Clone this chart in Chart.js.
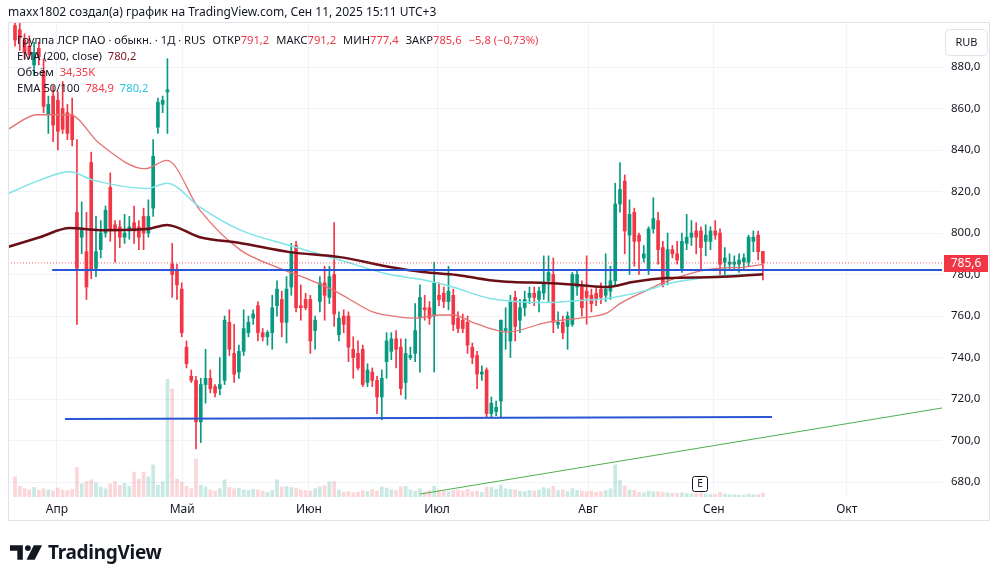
<!DOCTYPE html>
<html>
<head>
<meta charset="utf-8">
<script src="https://cdn.jsdelivr.net/npm/chart.js@4.4.1/dist/chart.umd.min.js"></script>
<style>
    html, body { margin: 0; padding: 0; background: #fff; width: 1000px; height: 578px; overflow: hidden; }
    body { font-family: "Noto Sans", "DejaVu Sans", sans-serif; color: #131722; }
    #wrap { position: relative; width: 1000px; height: 578px; }
    #chart { position: absolute; left: 0; top: 0; }
    .hdr { position: absolute; left: 8px; top: 3px; font-size: 12px; white-space: pre; }
    .legend { position: absolute; left: 17px; top: 32px; font-size: 11.2px; line-height: 16px; white-space: pre; }
    .red { color: #f23645; }
    .maroon { color: #801922; }
    .cyan { color: #26c6da; }
    .gap { margin-left: 7px; }
    .logo { position: absolute; left: 10px; top: 539px; display: flex; align-items: center; }
    .logo span { font-size: 19px; font-weight: 700; margin-left: 5px; letter-spacing: -0.3px; color: #131722; }
</style>
</head>
<body>
<div id="wrap">
    <canvas id="chart" width="1000" height="578"></canvas>
    <div class="hdr">maxx1802 создал(а) график на TradingView.com, Сен 11, 2025 15:11 UTC+3</div>
    <div class="legend">Группа ЛСР ПАО · обыкн. · 1Д · RUS<span class="gap">ОТКР</span><span class="red">791,2</span><span class="gap">МАКС</span><span class="red">791,2</span><span class="gap">МИН</span><span class="red">777,4</span><span class="gap">ЗАКР</span><span class="red">785,6</span><span class="gap red">−5,8 (−0,73%)</span>
EMA (200, close)  <span class="maroon">780,2</span>
Объём  <span class="red">34,35K</span>
EMA 50/100  <span class="red">784,9</span>  <span class="cyan">780,2</span></div>
    <div class="logo">
        <svg width="33" height="15" viewBox="0 0 36 16">
            <path d="M0 0 H14 V16 H8 V6 H0 Z" fill="#131722"/>
            <circle cx="19.5" cy="3.2" r="3.2" fill="#131722"/>
            <path d="M26 0 H35 L27 16 H18 Z" fill="#131722"/>
        </svg>
        <span>TradingView</span>
    </div>
</div>
<script>
// daily candles, index 0 = first visible bar (early April 2025)
const opens = [900, 898, 893, 890, 881, 889, 878, 857, 866, 864, 860, 858, 857, 810, 798, 791, 834, 783, 792, 800,
    822, 804, 803, 798, 801, 805, 803, 808, 800, 812, 851, 862, 868, 785, 782, 773, 745, 731, 729, 709,
    727, 730, 726, 725, 729, 757, 742, 733, 743, 752, 759, 765, 752, 750, 752, 765, 768, 757, 774, 794,
    765, 768, 768, 753, 767, 776, 769, 780, 751, 760, 760, 744, 742, 744, 728, 733, 729, 721, 738, 743,
    749, 745, 728, 740, 742, 759, 764, 764, 760, 770, 771, 767, 770, 759, 758, 757, 745, 741, 732, 734,
    713, 714, 719, 753, 748, 769, 758, 764, 769, 771, 768, 771, 777, 780, 756, 757, 755, 756, 774, 774,
    772, 770, 771, 773, 770, 772, 777, 814, 825, 799, 810, 799, 788, 782, 802, 806, 793, 778, 792, 790,
    783, 795, 798, 801, 801, 796, 796, 801, 800, 786, 785, 785, 785, 786, 786, 796, 799, 791.2];
const highs = [904, 903, 896, 895, 892, 892, 884, 866, 871, 868, 873, 862, 865, 845, 815, 810, 839, 808, 806, 813,
    829, 806, 806, 809, 808, 813, 806, 812, 816, 845, 865, 866, 884, 795, 785, 776, 748, 734, 731, 730,
    744, 734, 727, 740, 760, 763, 756, 746, 763, 760, 763, 767, 754, 753, 770, 777, 772, 779, 795, 796,
    775, 771, 770, 760, 779, 784, 784, 805, 762, 763, 762, 750, 748, 746, 737, 735, 731, 734, 752, 752,
    753, 749, 749, 745, 766, 775, 770, 767, 786, 776, 774, 784, 773, 762, 761, 760, 747, 743, 736, 735,
    721, 719, 758, 764, 770, 772, 768, 772, 774, 774, 774, 789, 789, 788, 762, 760, 762, 781, 782, 777,
    789, 773, 774, 776, 790, 784, 824, 834, 828, 816, 812, 800, 794, 803, 817, 810, 796, 800, 794, 796,
    800, 809, 806, 805, 803, 804, 803, 806, 802, 793, 790, 789, 790, 790, 799, 801, 801, 791.2];
const lows = [890, 888, 884, 884, 876, 881, 858, 848, 844, 840, 848, 845, 842, 756, 790, 768, 778, 779, 788, 798,
    796, 786, 793, 795, 797, 795, 792, 792, 798, 808, 848, 858, 848, 769, 768, 750, 735, 728, 696, 699,
    718, 723, 721, 722, 727, 741, 728, 730, 741, 750, 756, 748, 748, 746, 744, 760, 750, 747, 770, 762,
    758, 763, 742, 744, 762, 758, 766, 755, 748, 752, 738, 730, 734, 726, 726, 726, 713, 710, 730, 739,
    735, 722, 720, 739, 738, 733, 758, 756, 733, 765, 764, 763, 753, 752, 752, 742, 737, 725, 729, 711,
    711, 712, 711, 744, 740, 748, 752, 760, 766, 765, 762, 768, 767, 752, 754, 749, 744, 755, 770, 760,
    756, 762, 765, 766, 767, 768, 775, 810, 790, 780, 784, 780, 786, 780, 800, 785, 774, 775, 788, 785,
    781, 792, 794, 790, 782, 789, 792, 797, 780, 780, 782, 782, 781, 782, 784, 791, 787, 777.4];
const closes = [893, 894, 887, 886, 887, 885, 861, 862, 852, 849, 850, 848, 845, 783, 802, 774, 782, 791, 800, 811,
    801, 801, 798, 800, 803, 801, 798, 800, 808, 837, 863, 864, 869, 780, 775, 752, 737, 729, 709, 727,
    730, 725, 723, 727, 758, 744, 732, 743, 754, 757, 761, 752, 750, 752, 764, 773, 757, 773, 791, 764,
    764, 764, 748, 758, 776, 770, 779, 761, 759, 756, 745, 740, 735, 727, 734, 729, 721, 730, 748, 749,
    744, 725, 742, 741, 753, 769, 763, 759, 776, 768, 767, 772, 756, 754, 754, 746, 740, 732, 733, 713,
    718, 716, 758, 754, 767, 755, 764, 768, 771, 769, 772, 776, 781, 757, 757, 752, 760, 780, 780, 764,
    769, 766, 768, 769, 773, 777, 814, 821, 801, 809, 796, 796, 790, 802, 807, 792, 775, 792, 790, 787,
    796, 798, 800, 798, 793, 799, 801, 799, 785, 788, 786, 786, 787, 788, 798, 798, 791, 785.6];
// volume, thousands of shares
const volumes = [170, 90, 70, 60, 80, 55, 70, 60, 50, 75, 60, 55, 65, 250, 110, 130, 145, 120, 85, 70,
    110, 130, 100, 115, 90, 210, 150, 210, 170, 270, 100, 130, 990, 910, 150, 125, 90, 70, 320, 100,
    85, 60, 50, 70, 145, 80, 70, 75, 60, 55, 65, 60, 50, 40, 55, 145, 85, 90, 80, 75,
    60, 55, 50, 70, 85, 95, 125, 130, 60, 40, 45, 35, 40, 55, 45, 65, 50, 85, 75, 60,
    55, 85, 90, 60, 50, 70, 45, 55, 90, 60, 50, 45, 55, 60, 50, 65, 45, 50, 40, 85,
    80, 65, 100, 70, 65, 60, 50, 45, 55, 50, 60, 80, 70, 90, 55, 60, 45, 70, 55, 50,
    45, 50, 40, 45, 55, 70, 270, 140, 95, 60, 55, 40, 35, 50, 45, 45, 40, 35, 30, 30,
    35, 30, 25, 30, 35, 25, 20, 25, 40, 25, 20, 18, 15, 15, 25, 20, 20, 34.35];

// moving averages: bar index -> value
const ema50Idx = [-1.5, 4.6, 11.5, 17.8, 27.3, 31.9, 38.8, 47.2, 55.6, 61.3, 66.8, 70.3, 75.1, 80.8, 83.5, 89.2, 91.9, 96.1, 99.7, 103.3, 111.7, 118.6, 124.3, 127, 132.7, 135.4, 141.7, 147.4, 152.8, 157];
const ema50 = [850, 857, 857, 843, 831, 835, 811, 792, 783, 778, 772.5, 768, 762, 759.5, 759, 760.5, 760.5, 757, 754, 752.3, 757, 759, 761.5, 766, 772.5, 775.5, 780.5, 783, 783.5, 784.9];
const ema100Idx = [-1.5, 5.2, 11.5, 16.4, 27.7, 31.9, 38.8, 47.2, 57.7, 68.2, 78.7, 85.6, 91.9, 99.7, 111.7, 118.6, 124.3, 127, 132.7, 136.9, 141.7, 148.6, 157];
const ema100 = [819, 825.5, 829.5, 825.5, 821.5, 824, 812.5, 801.5, 794, 787, 780, 777.5, 774, 768.5, 766.5, 767.5, 768.5, 769.5, 772.5, 775.5, 777.5, 779.5, 780.2];
const ema200Idx = [-1.5, 5.2, 11.5, 17.8, 27.7, 31.9, 38.8, 47.2, 57.7, 68.2, 78.7, 85.6, 92.8, 99.7, 104.5, 111.7, 118.6, 124.3, 129.7, 136.9, 147.4, 157];
const ema200 = [793.3, 798, 802.4, 801.4, 801.9, 803.9, 798, 795.2, 790.8, 788.4, 783.6, 781.2, 779.8, 777.3, 776.4, 775.9, 774.9, 774, 776.4, 778.3, 778.8, 780.2];

// drawings on the chart
const levelHigh = { x: [7.8, 194.6], y: [782.2, 782.2] };
const levelLow = { x: [10.5, 158.9], y: [710.4, 711.4] };
const trendLine = { x: [85, 194.6], y: [674.2, 715.7] };
const earningsIdx = 143.8;

const monthIdx = [8.8, 35.1, 61.7, 88.6, 120.3, 146.7, 174.6];
const monthLabels = ['Апр', 'Май', 'Июн', 'Июл', 'Авг', 'Сен', 'Окт'];
const yTicks = [680, 700, 720, 740, 760, 780, 800, 820, 840, 860, 880];

const X_MIN = -1.47, X_MAX = 194.6;
const Y_MIN = 672.8, Y_MAX = 901.7;

const UP = '#089981', DOWN = '#f23645';
const candleColors = closes.map((c, i) => c >= opens[i] ? UP : DOWN);
const volColors = closes.map((c, i) => c >= opens[i] ? 'rgba(8,153,129,0.22)' : 'rgba(242,54,69,0.2)');
const fmt = v => v.toFixed(1).replace('.', ',');
const last = closes[closes.length - 1];

function pts(xs, ys) {
    return xs.map((x, i) => ({ x: x, y: ys[i] }));
}

const overlay = {
    id: 'overlay',
    afterDraw(chart) {
        const { ctx, scales: { x, y } } = chart;
        ctx.save();
        // panel frame
        ctx.strokeStyle = '#e0e3eb';
        ctx.lineWidth = 1;
        ctx.strokeRect(8.5, 22.5, 981, 498);

        // RUB button
        ctx.beginPath();
        ctx.roundRect(945.5, 29.5, 42, 26, 4);
        ctx.fillStyle = '#fff';
        ctx.fill();
        ctx.stroke();
        ctx.fillStyle = '#131722';
        ctx.font = '11px "Noto Sans"';
        ctx.textAlign = 'center';
        ctx.textBaseline = 'middle';
        ctx.fillText('RUB', 966.5, 42.5);

        // last price label
        const py = y.getPixelForValue(last);
        ctx.fillStyle = '#f23645';
        ctx.fillRect(944, Math.round(py) - 8, 44, 17);
        ctx.fillStyle = '#fff';
        ctx.font = '12px "Noto Sans"';
        ctx.fillText(fmt(last), 966, Math.round(py) + 0.5);

        // earnings marker
        const ex = x.getPixelForValue(earningsIdx);
        ctx.fillStyle = '#fff';
        ctx.strokeStyle = '#131722';
        ctx.beginPath();
        ctx.roundRect(Math.round(ex) - 7.5, 476.5, 15, 15, 2);
        ctx.fill();
        ctx.stroke();
        ctx.fillStyle = '#131722';
        ctx.font = '10px "Noto Sans"';
        ctx.fillText('E', Math.round(ex), 484.5);
        ctx.restore();
    }
};

new Chart(document.getElementById('chart').getContext('2d'), {
    type: 'bar',
    data: {
        datasets: [
            {
                type: 'line', order: 0,
                data: pts(levelHigh.x, levelHigh.y),
                borderColor: '#2a55d4', borderWidth: 2, pointRadius: 0
            },
            {
                type: 'line', order: 0,
                data: pts(levelLow.x, levelLow.y),
                borderColor: '#2a55d4', borderWidth: 2, pointRadius: 0
            },
            {
                type: 'line', order: 0,
                data: pts(trendLine.x, trendLine.y),
                borderColor: '#4caf50', borderWidth: 1, pointRadius: 0
            },
            {
                type: 'line', order: 1,
                data: pts([X_MIN, X_MAX], [last, last]),
                borderColor: 'rgba(242,54,69,0.8)', borderWidth: 1, borderDash: [1, 2], pointRadius: 0
            },
            {
                type: 'line', order: 2,
                data: pts(ema200Idx, ema200),
                borderColor: '#6b0f16', borderWidth: 2.5, pointRadius: 0,
                cubicInterpolationMode: 'monotone'
            },
            {
                type: 'line', order: 2,
                data: pts(ema100Idx, ema100),
                borderColor: '#7fe3e8', borderWidth: 1.5, pointRadius: 0,
                cubicInterpolationMode: 'monotone'
            },
            {
                type: 'line', order: 2,
                data: pts(ema50Idx, ema50),
                borderColor: '#e57373', borderWidth: 1.3, pointRadius: 0,
                cubicInterpolationMode: 'monotone'
            },
            {
                // candle bodies
                order: 4, grouped: false,
                data: opens.map((o, i) => ({ x: i, y: [o, closes[i]] })),
                backgroundColor: candleColors,
                barThickness: 3, minBarLength: 1
            },
            {
                // wicks
                order: 5, grouped: false,
                data: highs.map((h, i) => ({ x: i, y: [lows[i], h] })),
                backgroundColor: candleColors,
                barThickness: 1
            },
            {
                order: 9, grouped: false, yAxisID: 'yVol',
                data: volumes.map((v, i) => ({ x: i, y: v })),
                backgroundColor: volColors,
                barThickness: 3
            }
        ]
    },
    options: {
        responsive: false,
        animation: false,
        events: [],
        layout: { padding: { left: 8, top: 22, right: 0, bottom: 56 } },
        plugins: { legend: { display: false }, tooltip: { enabled: false } },
        scales: {
            x: {
                type: 'linear', min: X_MIN, max: X_MAX, offset: false,
                grid: { color: '#f0f3fa', drawTicks: false, offset: false },
                border: { display: false },
                afterBuildTicks: axis => { axis.ticks = monthIdx.map(v => ({ value: v })); },
                afterFit: axis => { axis.height = 25; },
                ticks: {
                    autoSkip: false, maxRotation: 0, padding: 5,
                    color: '#131722', font: { family: 'Noto Sans', size: 12 },
                    callback: (v, i) => monthLabels[i]
                }
            },
            y: {
                position: 'right', min: Y_MIN, max: Y_MAX,
                grid: { color: '#f0f3fa', drawTicks: false },
                border: { display: false },
                afterBuildTicks: axis => { axis.ticks = yTicks.map(v => ({ value: v })); },
                afterFit: axis => { axis.width = 58; },
                ticks: {
                    padding: 9, color: '#131722',
                    font: { family: 'Noto Sans', size: 11.5 },
                    callback: v => fmt(v)
                }
            },
            yVol: { display: false, min: 0, max: 4000 }
        }
    },
    plugins: [overlay]
});
</script>
</body>
</html>
